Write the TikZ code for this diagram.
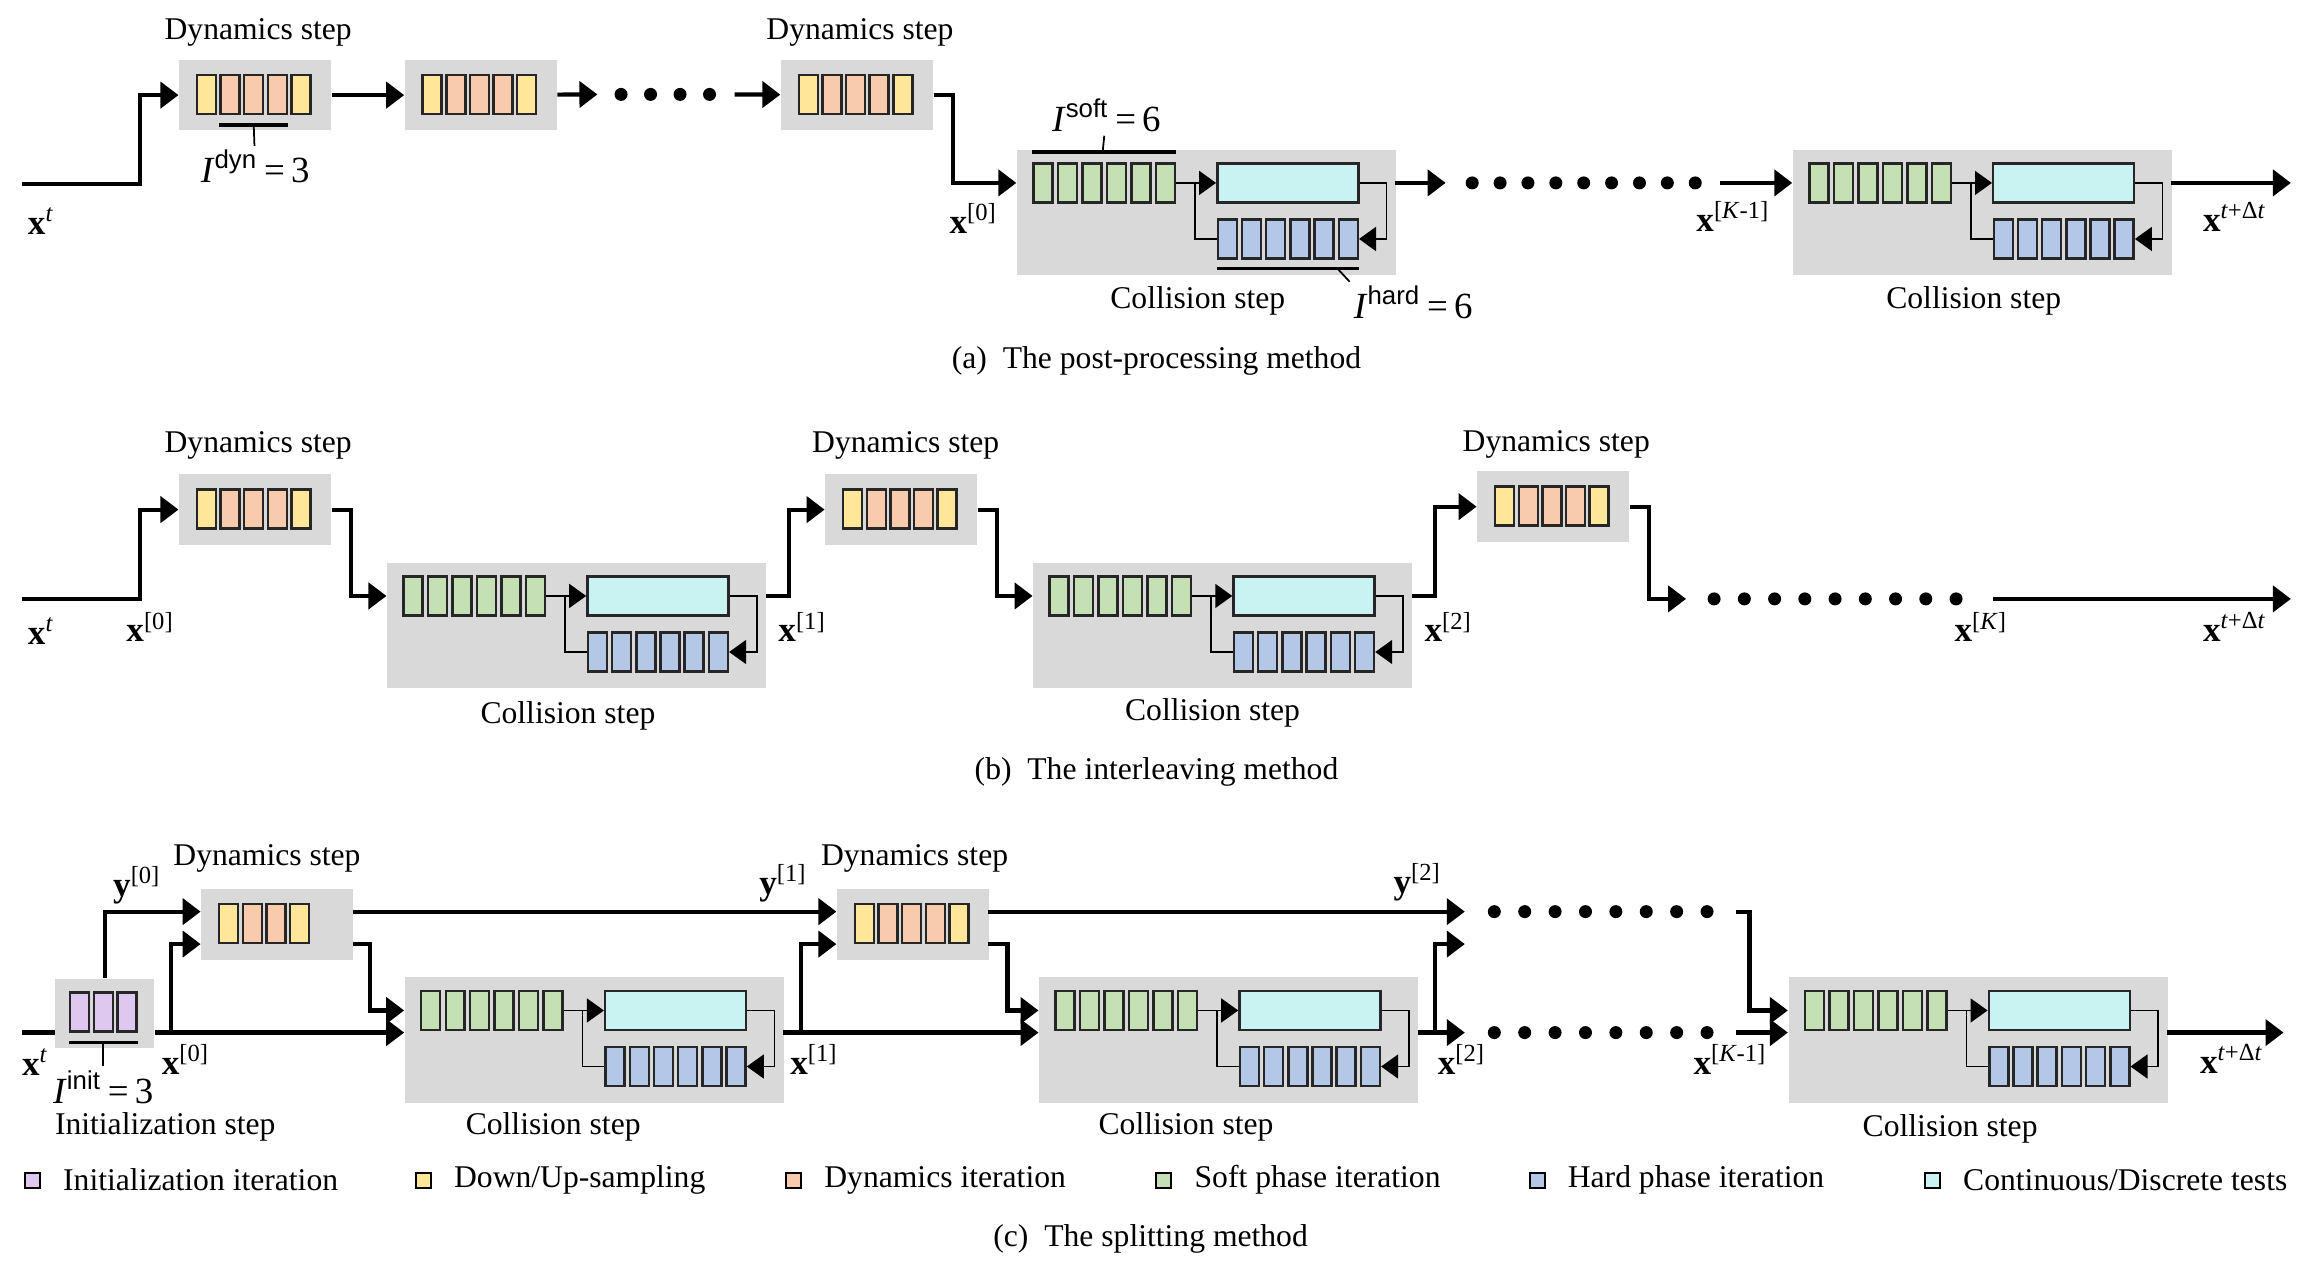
\documentclass[tikz,border=0pt]{standalone}
\usepackage{fontspec}
\setmainfont{Liberation Serif}
\setsansfont{Liberation Sans}
\usepackage{tikz}
\usetikzlibrary{arrows.meta,positioning}

\definecolor{boxgray}{HTML}{D9D9D9}
\definecolor{cInit}{HTML}{DFC8F0}
\definecolor{cSamp}{HTML}{FFE699}
\definecolor{cDyn}{HTML}{F8CBAD}
\definecolor{cSoft}{HTML}{C5E0B4}
\definecolor{cHard}{HTML}{B4C7E7}
\definecolor{cTest}{HTML}{C9F3F3}

\begin{document}
\begin{tikzpicture}[x=0.01475cm, y=-0.01475cm,
    flow/.style={line width=1.2pt, -{Triangle[length=0.18cm, width=0.26cm]}},
    thinflow/.style={line width=0.45pt, -{Triangle[length=0.17cm, width=0.24cm]}},
    thinline/.style={line width=0.45pt},
    bar/.style={line width=1pt},
    tick/.style={line width=0.5pt},
    greybox/.style={fill=boxgray, inner sep=0, anchor=north west},
    dynbox/.style={greybox, minimum width=1.519cm, minimum height=0.708cm},
    collbox/.style={greybox, minimum width=3.791cm, minimum height=1.254cm},
    initbox/.style={greybox, minimum width=0.988cm, minimum height=0.693cm},
    cell/.style={draw=black!85, line width=0.7pt, inner sep=0, minimum width=0.19cm, minimum height=0.39cm},
    legsq/.style={draw=black, line width=0.6pt, inner sep=0, minimum size=0.15cm},
    lbl/.style={font=\fontsize{9}{11}\selectfont, inner sep=1pt},
    var/.style={font=\fontsize{10}{12}\selectfont, inner sep=1pt},
    itr/.style={font=\fontsize{10.5}{12}\selectfont, inner sep=1pt}]
    \useasboundingbox (0,0) rectangle (1568,860);

    % Dynamics steps
    \foreach \nm/\bx/\by/\n/\m in {da1/121/40/5/4, da2/274/40/5/4, da3/529/40/5/4,
                                  db1/121/321/5/4, db2/559/321/5/4, db3/1001/319/5/4,
                                  dc1/136/602/4/3, dc2/567/602/5/4} {
        \node [dynbox] (\nm) at (\bx, \by) {};
        \node [cell, fill=cSamp] (\nm-1) at (\bx+19, \by+24) {};
        \foreach \i in {2,...,\m}
            \node [cell, fill=cDyn] (\nm-\i) at (\bx+3+16*\i, \by+24) {};
        \node [cell, fill=cSamp] (\nm-\n) at (\bx+3+16*\n, \by+24) {};
        \coordinate (\nm-in1) at (\bx, \by+16);
        \coordinate (\nm-in2) at (\bx, \by+38);
        \coordinate (\nm-out1) at (\bx+103, \by+16);
        \coordinate (\nm-out2) at (\bx+103, \by+38);
    }

    % Collision steps
    \foreach \nm/\bx/\by in {ca1/689/101, ca2/1215/101, cb1/262/381, cb2/700/381,
                             cc1/274/662, cc2/704/662, cc3/1212/662} {
        \node [collbox] (\nm) at (\bx, \by) {};
        \foreach \i in {1,...,6} {
            \node [cell, fill=cSoft] (\nm-s\i) at (\bx+1.4+16.6*\i, \by+23) {};
            \node [cell, fill=cHard] (\nm-h\i) at (\bx+126.6+16.4*\i, \by+61) {};
        }
        \node [cell, fill=cTest, minimum width=1.41cm] (\nm-t) at (\bx+184, \by+23) {};
        \coordinate (\nm-br) at (\bx+121, \by+23);
        \coordinate (\nm-lp) at (\bx+251, \by+61);
        \coordinate (\nm-in) at (\bx, \by+23);
        \coordinate (\nm-in2) at (\bx, \by+38);
        \coordinate (\nm-out) at (\bx+257, \by+23);
        \coordinate (\nm-out2) at (\bx+257, \by+38);
        \draw [thinflow] (\nm-s6) -- (\nm-t);
        \draw [thinline] (\nm-br) |- (\nm-h1);
        \draw [thinflow] (\nm-t) -| (\nm-lp) -- (\nm-h6);
    }

    % Step labels
    \foreach \nm/\lx/\ly in {da1/175/22, da3/583/22, db1/175/302, db2/614/302,
                             db3/1055/301, dc1/181/582, dc2/620/582}
        \node [lbl] (\nm-l) at (\lx, \ly) {Dynamics step};
    \foreach \nm/\lx/\ly in {ca1/812/204, ca2/1338/204, cb1/385/485, cb2/822/483,
                             cc1/375/764, cc2/804/764, cc3/1322/765}
        \node [lbl] (\nm-l) at (\lx, \ly) {Collision step};

    % (a) post-processing
    \coordinate (xa) at (15,125);
    \draw [flow] (xa) -- ++(80,0) |- (da1);
    \draw [flow] (da1) -- (da2);
    \coordinate (ea1) at (405,64);
    \coordinate (ea2) at (498,64);
    \draw [flow] (da2) -- (ea1);
    \foreach \x in {0,...,3}
        \fill (421+20*\x, 64) circle (0.065cm);
    \draw [flow] (ea2) -- (da3);
    \draw [flow] (da3.east) -- ++(13,0) |- (ca1-in);
    \coordinate (ea3) at (980,124);
    \coordinate (ea4) at (1166,124);
    \coordinate (xa9) at (1553,124);
    \draw [flow] (ca1-out) -- (ea3);
    \foreach \x in {0,...,8}
        \fill (998+18.9*\x, 124) circle (0.065cm);
    \draw [flow] (ea4) -- (ca2-in);
    \draw [flow] (ca2-out) -- (xa9);
    \node [var] (la0) at (28,150) {\textbf{x}\textsuperscript{\textit{t}}};
    \node [var] (la1) at (660,148) {\textbf{x}\textsuperscript{[0]}};
    \node [var] (la2) at (1175,147) {\textbf{x}\textsuperscript{[\textit{K}-1]}};
    \node [var] (la3) at (1515,147) {\textbf{x}\textsuperscript{\textit{t}+Δ\textit{t}}};

    % iteration counts
    \draw [bar] ([yshift=-0.1cm]da1-2.south west) -- ([yshift=-0.1cm]da1-4.south east);
    \node [itr] (idyn) at (173,113) {\textit{I}\textsuperscript{\sffamily dyn}\,=\,3};
    \draw [tick] ([yshift=-0.1cm]da1-3.south) -- (idyn);
    \draw [bar] ([yshift=0.1cm]ca1-s1.north west) -- ([yshift=0.1cm]ca1-s6.north east);
    \node [itr] (isoft) at (750,78) {\textit{I}\textsuperscript{\sffamily soft}\,=\,6};
    \draw [tick] ([yshift=0.1cm]ca1-s3.north east) -- (isoft);
    \draw [bar] ([yshift=-0.09cm]ca1-h1.south west) -- ([yshift=-0.09cm]ca1-h6.south east);
    \node [itr] (ihard) at (958,205) {\textit{I}\textsuperscript{\sffamily hard}\,=\,6};
    \draw [tick] ([yshift=-0.09cm]ca1-h6.south west) -- (ihard.north west);
    \node [lbl] (capa) at (784,245) {(a)\enspace The post-processing method};

    % (b) interleaving
    \coordinate (xb) at (15,406);
    \draw [flow] (xb) -- ++(80,0) |- (db1);
    \draw [flow] (db1.east) -- ++(13,0) |- (cb1-in);
    \draw [flow] (cb1-out) -- ++(16,0) |- (db2);
    \draw [flow] (db2.east) -- ++(13,0) |- (cb2-in);
    \draw [flow] (cb2-out) -- ++(16,0) |- (db3);
    \coordinate (eb1) at (1143,406);
    \draw [flow] (db3.east) -- ++(13,0) |- (eb1);
    \foreach \x in {0,...,8}
        \fill (1162+20.5*\x, 406) circle (0.065cm);
    \coordinate (eb2) at (1351,406);
    \coordinate (xb9) at (1553,406);
    \draw [flow] (eb2) -- (xb9);
    \node [var] (lb0) at (28,428) {\textbf{x}\textsuperscript{\textit{t}}};
    \node [var] (lb1) at (102,425) {\textbf{x}\textsuperscript{[0]}};
    \node [var] (lb2) at (544,425) {\textbf{x}\textsuperscript{[1]}};
    \node [var] (lb3) at (982,425) {\textbf{x}\textsuperscript{[2]}};
    \node [var] (lb4) at (1343,425) {\textbf{x}\textsuperscript{[\textit{K}]}};
    \node [var] (lb5) at (1515,425) {\textbf{x}\textsuperscript{\textit{t}+Δ\textit{t}}};
    \node [lbl] (capb) at (784,523) {(b)\enspace The interleaving method};

    % (c) splitting
    \node [initbox] (ic) at (37,663) {};
    \foreach \i in {1,2,3}
        \node [cell, fill=cInit] (ic-\i) at (38+16*\i, 686) {};
    \draw [bar] ([yshift=-0.1cm]ic-1.south west) -- ([yshift=-0.1cm]ic-3.south east);
    \node [itr] (iinit) at (70,737) {\textit{I}\textsuperscript{\sffamily init}\,=\,3};
    \draw [tick] ([yshift=-0.1cm]ic-2.south) -- (iinit);
    \node [lbl] (ic-l) at (112,764) {Initialization step};

    \coordinate (xc) at (15,700);
    \coordinate (jc0) at (116,700);
    \draw [line width=1.2pt] (xc) -- (xc -| ic.west);
    \draw [flow] (ic.north) |- (dc1-in1);
    \draw [flow] (xc -| ic.east) -- (cc1-in2);
    \draw [flow] (jc0) |- (dc1-in2);
    \draw [flow] (dc1-out1) -- (dc2-in1);
    \draw [flow] (dc1-out2) -- ++(12,0) |- (cc1-in);
    \coordinate (jc1) at (543,700);
    \draw [flow] (cc1-out2) -- (cc2-in2);
    \draw [flow] (jc1) |- (dc2-in2);
    \coordinate (yc2) at (993,618);
    \draw [flow] (dc2-out1) -- (yc2);
    \draw [flow] (dc2-out2) -- ++(13,0) |- (cc2-in);
    \coordinate (xc2) at (993,700);
    \coordinate (xc2b) at (993,640);
    \coordinate (jc2) at (973,700);
    \draw [flow] (cc2-out2) -- (xc2);
    \draw [flow] (jc2) |- (xc2b);
    \foreach \x in {0,...,7} {
        \fill (1013+20.6*\x, 618) circle (0.065cm);
        \fill (1013+20.6*\x, 700) circle (0.065cm);
    }
    \coordinate (yc9) at (1177,618);
    \coordinate (xc9) at (1177,700);
    \draw [flow] (yc9) -- ++(9,0) |- (cc3-in);
    \draw [flow] (xc9) -- (cc3-in2);
    \coordinate (xce) at (1548,700);
    \draw [flow] (cc3-out2) -- (xce);
    \node [var] (ly0) at (93,600) {\textbf{y}\textsuperscript{[0]}};
    \node [var] (ly1) at (531,599) {\textbf{y}\textsuperscript{[1]}};
    \node [var] (ly2) at (961,598) {\textbf{y}\textsuperscript{[2]}};
    \node [var] (lc0) at (24,720) {\textbf{x}\textsuperscript{\textit{t}}};
    \node [var] (lc1) at (126,718) {\textbf{x}\textsuperscript{[0]}};
    \node [var] (lc2) at (552,718) {\textbf{x}\textsuperscript{[1]}};
    \node [var] (lc3) at (991,718) {\textbf{x}\textsuperscript{[2]}};
    \node [var] (lc4) at (1173,718) {\textbf{x}\textsuperscript{[\textit{K}-1]}};
    \node [var] (lc5) at (1513,718) {\textbf{x}\textsuperscript{\textit{t}+Δ\textit{t}}};

    % Legend
    \foreach \c/\xx/\t [count=\k] in {cInit/22/{Initialization iteration},
            cSamp/287/{Down/Up-sampling}, cDyn/538/{Dynamics iteration},
            cSoft/789/{Soft phase iteration}, cHard/1042/{Hard phase iteration},
            cTest/1310/{Continuous/Discrete tests}} {
        \node [legsq, fill=\c] (lg\k) at (\xx, 800) {};
        \node [lbl, right=0.18cm of lg\k] (lt\k) {\t};
    }
    \node [lbl] (capc) at (780,840) {(c)\enspace The splitting method};
\end{tikzpicture}
\end{document}
